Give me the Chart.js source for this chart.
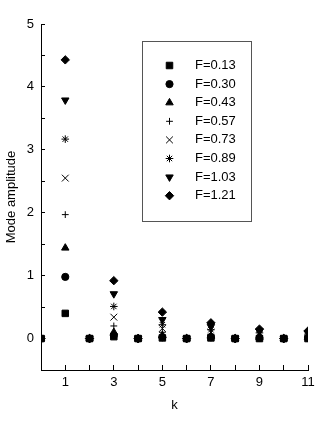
<!DOCTYPE html>
<html>
<head>
<meta charset="utf-8">
<script src="https://cdn.jsdelivr.net/npm/chart.js"></script>
<style>
  html, body { margin: 0; padding: 0; background: #fff; }
  #wrap { width: 327px; height: 427px; }
</style>
</head>
<body>
<div id="wrap"><canvas id="modeChart" width="327" height="427"></canvas></div>
<script>
// k values (x axis)
var kValues = [0, 1, 2, 3, 4, 5, 6, 7, 8, 9, 10, 11];

// series labels
var fLabels = ['F=0.13', 'F=0.30', 'F=0.43', 'F=0.57', 'F=0.73', 'F=0.89', 'F=1.03', 'F=1.21'];

// mode amplitude for each F, one value per k
var f013 = [0, 0.40, 0, 0.03, 0, 0.01, 0, 0.01, 0, 0.00, 0, 0.00];
var f030 = [0, 0.98, 0, 0.05, 0, 0.02, 0, 0.02, 0, 0.01, 0, 0.01];
var f043 = [0, 1.44, 0, 0.10, 0, 0.05, 0, 0.04, 0, 0.02, 0, 0.02];
var f057 = [0, 1.97, 0, 0.20, 0, 0.10, 0, 0.07, 0, 0.04, 0, 0.03];
var f073 = [0, 2.55, 0, 0.34, 0, 0.16, 0, 0.10, 0, 0.06, 0, 0.05];
var f089 = [0, 3.17, 0, 0.51, 0, 0.22, 0, 0.14, 0, 0.09, 0, 0.07];
var f103 = [0, 3.79, 0, 0.71, 0, 0.30, 0, 0.19, 0, 0.12, 0, 0.09];
var f121 = [0, 4.43, 0, 0.92, 0, 0.42, 0, 0.25, 0, 0.15, 0, 0.12];

var seriesValues = [f013, f030, f043, f057, f073, f089, f103, f121];

// marker for each series
var markers = [
  { style: 'rect', radius: 4.6, rotation: 0 },
  { style: 'circle', radius: 3.6, rotation: 0 },
  { style: 'triangle', radius: 4.3, rotation: 0 },
  { style: 'cross', radius: 3.4, rotation: 0 },
  { style: 'crossRot', radius: 4.8, rotation: 0 },
  { style: 'star', radius: 3.8, rotation: 0 },
  { style: 'triangle', radius: 4.3, rotation: 180 },
  { style: 'rectRot', radius: 4.2, rotation: 0 }
];

var FONT = "'Liberation Sans', Arial, sans-serif";

// build datasets from the arrays
var datasets = [];
for (var i = 0; i < seriesValues.length; i++) {
  var pts = [];
  for (var j = 0; j < kValues.length; j++) {
    pts.push({ x: kValues[j], y: seriesValues[i][j] });
  }
  datasets.push({
    label: fLabels[i],
    data: pts,
    pointStyle: markers[i].style,
    pointRadius: markers[i].radius,
    pointHoverRadius: markers[i].radius,
    pointRotation: markers[i].rotation,
    backgroundColor: '#000',
    borderColor: '#000',
    borderWidth: 1,
    // markers at k=0 and k=11 are cut by the plot edges like in the original
    clip: { left: 0, right: 0, top: false, bottom: false },
    order: seriesValues.length - i
  });
}

// legend box inside the plot, drawn by hand
var boxLegend = {
  id: 'boxLegend',
  afterDatasetsDraw: function(chart) {
    var ctx = chart.ctx;
    ctx.save();
    ctx.strokeStyle = '#555';
    ctx.lineWidth = 1;
    ctx.strokeRect(142.5, 41.5, 109, 180);
    ctx.font = '13px ' + FONT;
    ctx.textBaseline = 'middle';
    ctx.textAlign = 'left';
    for (var i = 0; i < fLabels.length; i++) {
      var y = 65.5 + i * 18.6;
      ctx.fillStyle = '#000';
      ctx.strokeStyle = '#000';
      ctx.lineWidth = 1;
      if (Chart.helpers && Chart.helpers.drawPoint) {
        Chart.helpers.drawPoint(ctx, {
          pointStyle: markers[i].style,
          radius: markers[i].radius,
          rotation: markers[i].rotation,
          borderWidth: 1
        }, 169.5, y);
      }
      ctx.fillStyle = '#000';
      ctx.fillText(fLabels[i], 195, y);
    }
    ctx.restore();
  }
};

var ctx = document.getElementById('modeChart');
var modeChart = new Chart(ctx, {
  type: 'scatter',
  data: { datasets: datasets },
  options: {
    responsive: false,
    animation: false,
    events: [],
    layout: { padding: { top: 24, right: 19, bottom: 12, left: 0 } },
    plugins: {
      legend: { display: false },
      tooltip: { enabled: false }
    },
    scales: {
      x: {
        type: 'linear',
        min: 0,
        max: 11,
        afterFit: function(scale) { scale.height = 45; },
        border: { display: true, color: '#000', width: 1 },
        grid: { drawOnChartArea: false, drawTicks: true, tickLength: -5, color: '#000' },
        ticks: {
          stepSize: 1,
          autoSkip: false,
          maxRotation: 0,
          padding: 10,
          color: '#000',
          font: { family: FONT, size: 13 },
          callback: function(v) { return v % 2 === 1 ? v : ''; }
        },
        title: {
          display: true,
          text: 'k',
          color: '#000',
          font: { family: FONT, size: 13 },
          padding: { top: 0, bottom: 2 }
        }
      },
      y: {
        type: 'linear',
        min: -0.5,
        max: 5,
        afterFit: function(scale) { scale.width = 41; },
        border: { display: true, color: '#000', width: 1 },
        grid: { drawOnChartArea: false, drawTicks: true, tickLength: -4, color: '#000' },
        ticks: {
          stepSize: 0.5,
          autoSkip: false,
          padding: 11,
          color: '#000',
          font: { family: FONT, size: 13 },
          callback: function(v) { return (Number.isInteger(v) && v >= 0) ? v : ''; }
        },
        title: {
          display: true,
          text: 'Mode amplitude',
          color: '#000',
          font: { family: FONT, size: 13 },
          padding: { top: 4, bottom: 0 }
        }
      }
    }
  },
  plugins: [boxLegend]
});
</script>
</body>
</html>
